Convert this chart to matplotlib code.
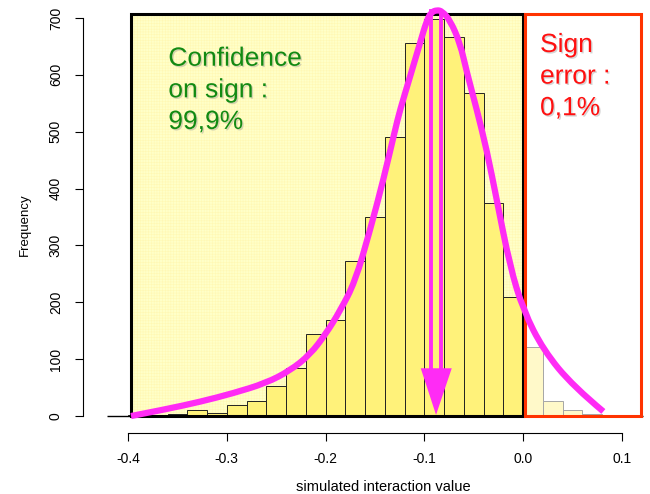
import numpy as np
import matplotlib
matplotlib.use('Agg')
import matplotlib.pyplot as plt
from matplotlib.patches import Rectangle, Polygon, PathPatch
from matplotlib.path import Path
import matplotlib.patheffects as pe

plt.rcParams['font.family'] = ['Liberation Sans', 'DejaVu Sans']
plt.rcParams['hatch.linewidth'] = 0.4

# histogram of simulated interaction values (bin width 0.02)
bin_edges = np.round(np.arange(-0.40, 0.1001, 0.02), 2)
counts = [1, 1, 3, 10, 6, 20, 26, 52, 85, 144, 169, 272, 350, 491,
          656, 698, 667, 568, 375, 209, 121, 26, 10, 3, 1]

# hand-drawn density curve over the histogram (control points)
curve_x = [-0.3970, -0.3615, -0.3271, -0.2937, -0.2603, -0.2359, -0.2157, -0.1995,
           -0.1853, -0.1701, -0.1549, -0.1415, -0.1296, -0.1246, -0.1144, -0.1043,
           -0.0975, -0.093, -0.0874, -0.082, -0.0739, -0.0638, -0.057, -0.047,
           -0.0368, -0.0266, -0.0132, 0.0003, 0.0206, 0.0509, 0.0813]
curve_y = [0, 12, 25, 40, 58, 80, 108, 145,
           185, 236, 327, 415, 503, 538, 597, 656,
           696, 710, 714, 712, 696, 656, 605, 540,
           468, 380, 263, 186, 116, 52, 8]

xticks = [-0.4, -0.3, -0.2, -0.1, 0.0, 0.1]
xticklabels = ['-0.4', '-0.3', '-0.2', '-0.1', '0.0', '0.1']
yticks = [0, 100, 200, 300, 400, 500, 600, 700]

# regions: confident sign (negative) and sign error (positive)
conf_box = (-0.3975, 0.0, 0, 707)
err_box = (0.002, 0.1195, 0, 707)
mode_x = -0.0881

magenta = '#FF2BF5'


def smooth_path(xs, ys):
    # quadratic b-spline through the midpoints of the control polygon
    pts = list(zip(xs, ys))
    verts = [pts[0]]
    codes = [Path.MOVETO]
    for i in range(1, len(pts) - 1):
        mid = ((pts[i][0] + pts[i + 1][0]) / 2, (pts[i][1] + pts[i + 1][1]) / 2)
        if i == len(pts) - 2:
            mid = pts[-1]
        verts += [pts[i], mid]
        codes += [Path.CURVE3, Path.CURVE3]
    return Path(verts, codes)


def box(ax, b, **kw):
    ax.add_patch(Rectangle((b[0], b[2]), b[1] - b[0], b[3] - b[2], **kw))


fig = plt.figure(figsize=(6.5, 4.94), dpi=100)
ax = fig.add_axes([0.1514, 0.1348, 0.8432, 0.8633])
ax.set_xlim(-0.43, 0.125)
ax.set_ylim(-20, 730)

# background of the confidence region
box(ax, conf_box, facecolor='#FFFFC8', edgecolor='#FFF8B4', linewidth=0,
    hatch='++++++', zorder=1)

# histogram bars
ax.bar(bin_edges[:-1], counts, width=np.diff(bin_edges), align='edge',
       color='#FFF27A', edgecolor='#222222', linewidth=0.7, zorder=2)

box(ax, conf_box, facecolor='none', edgecolor='black', linewidth=2.2, zorder=3)

# sign error region, washes out the bars behind it
box(ax, err_box, facecolor='white', alpha=0.6, edgecolor='none', zorder=3)
box(ax, err_box, facecolor='none', edgecolor='#FF3300', linewidth=2.2, zorder=4)

ax.hlines(0, -0.4216, 0.1215, color='black', linewidth=1, zorder=2.5)

# density curve
ax.add_patch(PathPatch(smooth_path(curve_x, curve_y), facecolor='none',
                       edgecolor=magenta, linewidth=4.5, capstyle='butt',
                       joinstyle='round', zorder=5))

# arrow marking the mode
for dx in (-0.0051, 0.0051):
    ax.plot([mode_x + dx, mode_x + dx], [84, 712], color=magenta,
            linewidth=2.8, zorder=6)
ax.add_patch(Polygon([(mode_x - 0.0155, 84), (mode_x + 0.0159, 84), (mode_x, 2)],
                     closed=True, facecolor=magenta, edgecolor='none', zorder=6))

shadow = [pe.SimplePatchShadow(offset=(1, -1), shadow_rgbFace='#888888', alpha=0.35),
          pe.Normal()]
ax.text(-0.3592, 649.5, 'Confidence\non sign :\n99,9%', color='#128A12',
        fontsize=19, va='top', ha='left', linespacing=1.4,
        path_effects=shadow, zorder=7)
ax.text(0.0172, 673.6, 'Sign\nerror :\n0,1%', color='#FF1010',
        fontsize=19, va='top', ha='left', linespacing=1.4,
        path_effects=shadow, zorder=7)

# R style axes
for side in ('top', 'right'):
    ax.spines[side].set_visible(False)
ax.spines['left'].set_position(('outward', 11.1))
ax.spines['bottom'].set_position(('outward', 4))
ax.spines['left'].set_bounds(0, 700)
ax.spines['bottom'].set_bounds(-0.4, 0.1)
ax.spines['left'].set_linewidth(0.8)
ax.spines['bottom'].set_linewidth(0.8)

ax.set_xticks(xticks)
ax.set_xticklabels(xticklabels)
ax.set_yticks(yticks)
ax.set_yticklabels([str(v) for v in yticks], rotation=90, va='center')
ax.tick_params(axis='both', direction='out', length=5.5, width=0.8,
               labelsize=10)
ax.tick_params(axis='x', pad=8)
ax.tick_params(axis='y', pad=9)

ax.set_xlabel('simulated interaction value', fontsize=10.5, va='center')
ax.xaxis.set_label_coords(0.52, -0.1397)
ax.set_ylabel('Frequency', fontsize=9.5, va='center', ha='center')
ax.yaxis.set_label_coords(-0.134, 0.4746)

fig.savefig('out.png', dpi=100)
